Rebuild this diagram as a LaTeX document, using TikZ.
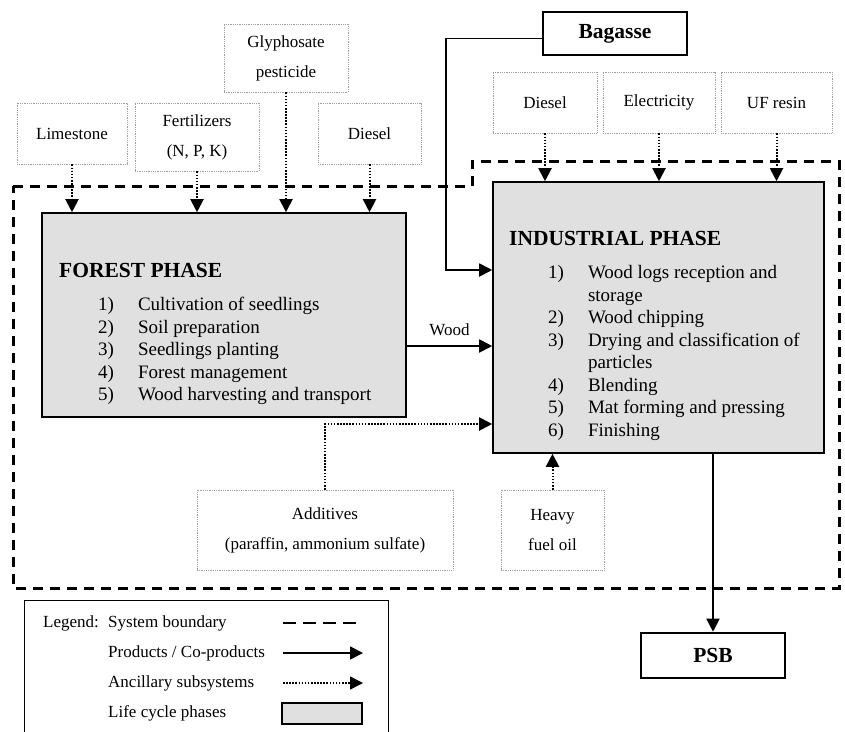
\documentclass[tikz,border=0pt]{standalone}
\usepackage{fontspec}
\setmainfont{Liberation Serif}
\usetikzlibrary{arrows.meta,positioning,calc}

\newcommand{\lblfont}{\fontsize{17}{30}\selectfont}
\newcommand{\itemfont}{\fontsize{19}{22.5}\selectfont}
\newcommand{\headfont}{\fontsize{21.5}{25}\selectfont\bfseries}

\begin{document}
\begin{tikzpicture}[x=1pt,y=-1pt,
  anc/.style={draw=gray!75,densely dotted,line width=0.8pt,align=center,font=\lblfont,inner sep=0pt},
  phase/.style={draw,line width=1.6pt,fill=black!12,inner sep=0pt},
  prod/.style={draw,line width=2.6pt,font=\headfont,inner sep=0pt},
  bound/.style={line width=3pt,dash pattern=on 10pt off 7pt},
  flow/.style={-{Triangle[length=13pt,width=13pt]},line width=1.8pt},
  aux/.style={flow,line width=2pt,dash pattern=on 1.6pt off 1.5pt},
  txt/.style={anchor=west,inner sep=0pt,font=\lblfont}]
  \clip (0,0) rectangle (845,731);

  \node[anc,minimum width=110pt,minimum height=61pt] (lime) at (72,133.5) {Limestone};
  \node[anc,minimum width=124pt,minimum height=68pt] (fert) at (197,137) {Fertilizers\\(N, P, K)};
  \node[anc,minimum width=124pt,minimum height=68pt] (glyph) at (286,58) {Glyphosate\\pesticide};
  \node[anc,minimum width=103pt,minimum height=61pt] (fdiesel) at (369.5,133.5) {Diesel};
  \node[anc,minimum width=104pt,minimum height=61pt] (idiesel) at (545,102.5) {Diesel};
  \node[anc,minimum width=112pt,minimum height=61pt] (elec) at (659,102.5) {Electricity};
  \node[anc,minimum width=111pt,minimum height=61pt] (resin) at (776.5,102.5) {UF resin};
  \node[anc,minimum width=256pt,minimum height=80pt] (addit) at (325,530) {Additives\\(paraffin, ammonium sulfate)};
  \node[anc,minimum width=103pt,minimum height=80pt] (fuel) at (552.5,530) {Heavy\\fuel oil};

  \node[phase,minimum width=364pt,minimum height=204pt] (forest) at (224,315) {};
  \node[phase,minimum width=331pt,minimum height=271pt] (indus) at (658.5,317.5) {};
  \node[prod,minimum width=144pt,minimum height=43pt] (bagasse) at (615,33.5) {Bagasse};
  \node[prod,minimum width=144pt,minimum height=45pt] (psb) at (713,655.5) {PSB};

  \node[font=\headfont,anchor=west,inner sep=0pt] (fhead) at (59,270) {FOREST PHASE};
  \node[font=\itemfont,anchor=north west,inner sep=0pt] (flist) at (98,295) {%
    \begin{tabular}{@{}r@{\hspace{24pt}}l@{}}
      1) & Cultivation of seedlings\\
      2) & Soil preparation\\
      3) & Seedlings planting\\
      4) & Forest management\\
      5) & Wood harvesting and transport
    \end{tabular}};
  \node[font=\headfont,anchor=west,inner sep=0pt] (ihead) at (509,238) {INDUSTRIAL PHASE};
  \node[font=\itemfont,anchor=north west,inner sep=0pt] (ilist) at (548,263) {%
    \begin{tabular}{@{}r@{\hspace{24pt}}l@{}}
      1) & Wood logs reception and\\
         & storage\\
      2) & Wood chipping\\
      3) & Drying and classification of\\
         & particles\\
      4) & Blending\\
      5) & Mat forming and pressing\\
      6) & Finishing
    \end{tabular}};

  \draw[bound] (13,186) -- (472,186) -- (472,161) -- (839,161) -- (839,588) -- (13,588) -- cycle;

  \foreach \n in {lime,fert,glyph,fdiesel}
    \draw[aux] (\n.south) -- (\n.south |- forest.north);
  \foreach \n in {idiesel,elec,resin}
    \draw[aux] (\n.south) -- (\n.south |- indus.north);

  \coordinate (bend) at (446,270);
  \draw[flow] ([yshift=-5pt]bagasse.west) -| (bend) -- (bend -| indus.west);
  \coordinate (woodout) at ([yshift=-31pt]forest.east);
  \draw[flow] (woodout) -- (woodout -| indus.west)
    node[midway,above=9pt,inner sep=0pt,font=\lblfont] {Wood};
  \draw[aux] (addit.north) |- ([yshift=-106.5pt]indus.west);
  \draw[aux] (fuel.north) -- (fuel.north |- indus.south);
  \draw[flow] (psb.north |- indus.south) -- (psb.north);

  \node[draw,line width=1.2pt,minimum width=364pt,minimum height=160pt,anchor=north west] (legend) at (24,600) {};
  \node[txt] (legtitle) at (43,623) {Legend:};
  \node[txt] (legbound) at (108,623) {System boundary};
  \node[txt] (legprod) at (108,653) {Products / Co-products};
  \node[txt] (legaux) at (108,683) {Ancillary subsystems};
  \node[txt] (legphase) at (108,713) {Life cycle phases};
  \draw[bound,line width=2.4pt,dash pattern=on 13pt off 7pt] (283,623) -- (363,623);
  \draw[flow] (283,653) -- (363,653);
  \draw[aux,line width=1.4pt] (283,683) -- (363,683);
  \node[phase,line width=1.2pt,minimum width=80pt,minimum height=21pt] (legbox) at (322,713.5) {};
\end{tikzpicture}
\end{document}
